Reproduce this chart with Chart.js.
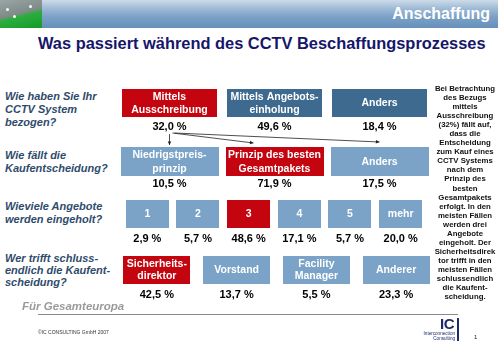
<!DOCTYPE html>
<html>
<head>
    <title>CCTV Beschaffung</title>
    <script src="https://cdn.jsdelivr.net/npm/chart.js"></script>
    <style>
        body { margin: 0; width: 498px; height: 345px; background: #fff; position: relative; overflow: hidden;
               font-family: "Liberation Sans", Arial, sans-serif; }
        .abs { position: absolute; }
        .band { left: 0; top: 0; width: 498px; height: 28px;
                background: linear-gradient(#cddbe8 0%, #9fbbd6 30%, #7ca1c6 60%, #6690ba 100%); }
        .photo { left: 0; top: 0; width: 42px; height: 28px;
                 background: linear-gradient(166deg, #9aa6a4 0%, #7d8a86 48%, #2cae3e 56%, #149a2a 100%); }
        .dot { width: 3px; height: 3px; border-radius: 2px; background: #f4fff4; }
        .section-title { right: 8px; top: 5px; color: #fff; font-weight: bold; font-size: 16px; }
        .title { left: 38px; top: 34px; color: #16166a; font-weight: bold; font-size: 16.4px; white-space: nowrap; }
        .q { left: 5px; color: #2f4b6c; font-weight: bold; font-style: italic; font-size: 11px; line-height: 13px; white-space: nowrap; }
        .side { left: 431px; top: 84px; width: 68px; text-align: center; font-weight: bold; font-size: 7.8px;
                line-height: 9.04px; white-space: nowrap; color: #111; }
        canvas { position: absolute; }
    </style>
</head>
<body>
    <div class="abs band"></div>
    <div class="abs photo"></div>
    <div class="abs dot" style="left:6px;top:8px"></div>
    <div class="abs dot" style="left:29px;top:5px"></div>
    <div class="abs dot" style="left:13px;top:15px"></div>
    <div class="abs section-title">Anschaffung</div>
    <div class="abs title">Was passiert während des CCTV Beschaffungsprozesses</div>

    <div class="abs q" style="top:90px">Wie haben Sie Ihr<br>CCTV System<br>bezogen?</div>
    <div class="abs q" style="top:149px">Wie fällt die<br>Kaufentscheidung?</div>
    <div class="abs q" style="top:200px">Wieviele Angebote<br>werden eingeholt?</div>
    <div class="abs q" style="top:252px;line-height:12px">Wer trifft schluss-<br>endlich die Kaufent-<br>scheidung?</div>

    <canvas id="row1" width="315" height="45" style="left:117px;top:89px"></canvas>
    <canvas id="row2" width="315" height="60" style="left:117px;top:131px"></canvas>
    <canvas id="row3" width="304" height="48" style="left:122px;top:200px"></canvas>
    <canvas id="row4" width="319" height="48" style="left:117px;top:256px"></canvas>

    <div class="abs side">Bei Betrachtung<br>des Bezugs<br>mittels<br>Ausschreibung<br>(32%) fällt auf,<br>dass die<br>Entscheidung<br>zum Kauf eines<br>CCTV Systems<br>nach dem<br>Prinzip des<br>besten<br>Gesamtpakets<br>erfolgt. In den<br>meisten Fällen<br>werden drei<br>Angebote<br>eingeholt. Der<br>Sicherheitsdirek<br>tor trifft in den<br>meisten Fällen<br>schlussendlich<br>die Kaufent-<br>scheidung.</div>

    <div class="abs" style="left:22px;top:300px;color:#9a9a9a;font-weight:bold;font-style:italic;font-size:11.5px">Für Gesamteuropa</div>
    <div class="abs" style="left:38px;top:314px;width:420px;height:1px;background:#8a8a8a"></div>
    <div class="abs" style="left:38px;top:329px;font-size:5px;color:#333">©IC CONSULTING GmbH 2007</div>
    <div class="abs" style="left:440px;top:315px;font-size:15px;font-weight:bold;color:#1d2a6b;letter-spacing:-0.5px">IC</div>
    <div class="abs" style="left:410px;top:331px;width:45px;text-align:right;font-size:4.6px;line-height:5px;color:#1d2a6b">Interconnection<br>Consulting</div>
    <div class="abs" style="left:457px;top:318px;width:2px;height:23px;background:#1d2a6b"></div>
    <div class="abs" style="left:474px;top:334px;font-size:6px;color:#222">1</div>

    <script>
    // Wie haben Sie Ihr CCTV System bezogen?
    const bezugLabels = [['Mittels', 'Ausschreibung'], ['Mittels Angebots-', 'einholung'], 'Anders'];
    const bezugValues = [32.0, 49.6, 18.4];
    // Wie fällt die Kaufentscheidung?
    const entscheidLabels = [['Niedrigstpreis-', 'prinzip'], ['Prinzip des besten', 'Gesamtpakets'], 'Anders'];
    const entscheidValues = [10.5, 71.9, 17.5];
    // Wieviele Angebote werden eingeholt?
    const angeboteLabels = ['1', '2', '3', '4', '5', 'mehr'];
    const angeboteValues = [2.9, 5.7, 48.6, 17.1, 5.7, 20.0];
    // Wer trifft schlussendlich die Kaufentscheidung?
    const werLabels = [['Sicherheits-', 'direktor'], 'Vorstand', ['Facility', 'Manager'], 'Anderer'];
    const werValues = [42.5, 13.7, 5.5, 23.3];

    const RED = '#c40510', DARK = '#3e6a90', LIGHT = '#7ba3c8';
    const bezugColors = [RED, DARK, DARK];
    const entscheidColors = [LIGHT, RED, LIGHT];
    const angeboteColors = [LIGHT, LIGHT, RED, LIGHT, LIGHT, LIGHT];
    const werColors = [RED, LIGHT, LIGHT, LIGHT];

    const FONT = '"Liberation Sans", Arial, sans-serif';

    function arrow(ctx, x1, y1, x2, y2) {
        const a = Math.atan2(y2 - y1, x2 - x1), s = 4;
        ctx.beginPath();
        ctx.moveTo(x1, y1);
        ctx.lineTo(x2, y2);
        ctx.stroke();
        ctx.beginPath();
        ctx.moveTo(x2, y2);
        ctx.lineTo(x2 - s * Math.cos(a - 0.45), y2 - s * Math.sin(a - 0.45));
        ctx.lineTo(x2 - s * Math.cos(a + 0.45), y2 - s * Math.sin(a + 0.45));
        ctx.closePath();
        ctx.fill();
    }

    // draws each category as a labelled box with its percentage underneath
    const boxPlugin = {
        id: 'boxes',
        beforeDatasetsDraw() { return false; },
        afterDraw(chart, args, opts) {
            const ctx = chart.ctx;
            const ds = chart.data.datasets[0];
            const bars = chart.getDatasetMeta(0).data;
            const top = chart.chartArea.top + opts.top;
            ctx.save();
            ctx.textAlign = 'center';
            ctx.textBaseline = 'middle';
            bars.forEach((bar, i) => {
                const w = bar.width;
                ctx.fillStyle = ds.backgroundColor[i];
                ctx.fillRect(Math.round(bar.x - w / 2), top, Math.round(w), opts.height);
                const lines = [].concat(chart.data.labels[i]);
                ctx.fillStyle = '#fff';
                ctx.font = 'bold 10.5px ' + FONT;
                lines.forEach((ln, j) => {
                    ctx.fillText(ln, bar.x, top + opts.height / 2 + (j - (lines.length - 1) / 2) * opts.lineHeight + 0.5);
                });
                ctx.fillStyle = '#000';
                ctx.font = 'bold 11px ' + FONT;
                ctx.fillText(ds.data[i].toFixed(1).replace('.', ',') + ' %', bar.x, top + opts.height + opts.valueGap);
            });
            if (opts.arrows) {
                ctx.strokeStyle = '#222';
                ctx.fillStyle = '#222';
                ctx.lineWidth = 0.8;
                const y0 = chart.chartArea.top + 2;
                const x0 = bars[0].x;
                arrow(ctx, x0, y0 + 1, x0, top - 2);
                arrow(ctx, x0 + 3, y0, bars[1].x - 21, top - 4);
                arrow(ctx, x0 + 5, y0, bars[2].x, top - 5);
            }
            ctx.restore();
        }
    };

    function makeRow(id, labels, values, colors, barPct, boxOpts) {
        return new Chart(document.getElementById(id), {
            type: 'bar',
            data: {
                labels: labels,
                datasets: [{ data: values, backgroundColor: colors, categoryPercentage: 1, barPercentage: barPct }]
            },
            options: {
                responsive: false,
                animation: false,
                events: [],
                layout: { padding: 0 },
                plugins: { legend: { display: false }, tooltip: { enabled: false }, boxes: boxOpts },
                scales: {
                    x: { display: false },
                    y: { display: false, beginAtZero: true, max: 100 }
                }
            },
            plugins: [boxPlugin]
        });
    }

    makeRow('row1', bezugLabels, bezugValues, bezugColors, 0.9, { top: 0, height: 28, lineHeight: 13.5, valueGap: 9.5 });
    makeRow('row2', entscheidLabels, entscheidValues, entscheidColors, 0.93, { top: 16, height: 29, lineHeight: 13.5, valueGap: 7.5, arrows: true });
    makeRow('row3', angeboteLabels, angeboteValues, angeboteColors, 0.85, { top: 0, height: 28, lineHeight: 13, valueGap: 11 });
    makeRow('row4', werLabels, werValues, werColors, 0.84, { top: 0, height: 28, lineHeight: 12, valueGap: 11 });
    </script>
</body>
</html>
